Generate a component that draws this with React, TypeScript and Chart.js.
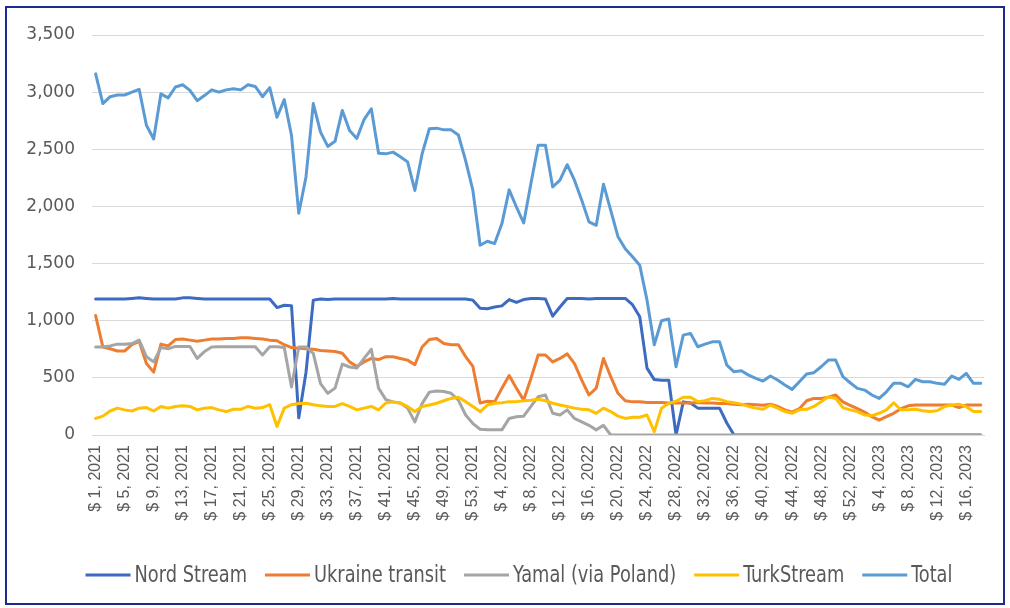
import React, { useEffect, useRef } from "react";
import { Chart, registerables } from "chart.js";

Chart.register(...registerables);

// Week ranges shown on the category axis: [year, number of weeks]
const WEEK_RANGES: [number, number][] = [
  [2021, 53],
  [2022, 52],
  [2023, 18],
];

const SERIES_NAMES = ["Nord Stream", "Ukraine transit", "Yamal (via Poland)", "TurkStream", "Total"];
const SERIES_COLORS = ["#3D6BC2", "#ED7D31", "#A5A5A5", "#FFC000", "#5B9BD5"];

const Y_TICKS = [0, 500, 1000, 1500, 2000, 2500, 3000, 3500];

const nordStream = [
  1190, 1190, 1190, 1190, 1190, 1195, 1200, 1195, 1190, 1190, 1190, 1190, 1200, 1200, 1195, 1190, 1190, 1190, 1190, 1190,
  1190, 1190, 1190, 1190, 1190, 1115, 1135, 1130, 150, 550, 1180, 1190, 1185, 1190, 1190, 1190, 1190, 1190, 1190, 1190,
  1190, 1195, 1190, 1190, 1190, 1190, 1190, 1190, 1190, 1190, 1190, 1190, 1180, 1110, 1105, 1120, 1130, 1185, 1160, 1185,
  1195, 1195, 1190, 1040, 1120, 1195, 1195, 1195, 1190, 1195, 1195, 1195, 1195, 1195, 1140, 1035, 585, 485, 480, 480,
  0, 290, 280, 235, 235, 235, 235, 105, 0, 0, 0, 0, 0, 0, 0, 0, 0, 0, 0, 0,
  0, 0, 0, 0, 0, 0, 0, 0, 0, 0, 0, 0, 0, 0, 0, 0, 0, 0, 0, 0,
  0, 0, 0,
];

const ukraineTransit = [
  1045, 770, 755, 735, 735, 790, 820, 625, 550, 795, 780, 835, 840, 830, 820, 830, 840, 840, 845, 845,
  850, 850, 845, 840, 830, 825, 790, 765, 760, 755, 750, 740, 735, 730, 715, 640, 600, 640, 670, 660,
  685, 685, 670, 655, 615, 770, 835, 845, 800, 790, 790, 685, 600, 280, 295, 290, 410, 520, 410, 305,
  495, 700, 700, 640, 670, 710, 625, 480, 350, 410, 670, 510, 365, 300, 290, 290, 285, 285, 285, 280,
  280, 280, 280, 285, 280, 280, 275, 275, 270, 265, 270, 265, 260, 270, 250, 220, 200, 230, 300, 320,
  320, 330, 350, 290, 260, 230, 200, 160, 130, 160, 190, 230, 255, 262, 262, 262, 262, 262, 262, 240,
  262, 262, 262,
];

const yamal = [
  770, 770, 780, 795, 795, 800, 830, 685, 640, 765, 755, 775, 775, 775, 670, 730, 770, 772, 772, 772,
  772, 772, 772, 700, 772, 772, 765, 420, 770, 770, 715, 450, 365, 410, 620, 595, 585, 670, 750, 410,
  310, 290, 280, 235, 115, 275, 375, 385, 380, 365, 305, 175, 100, 50, 45, 45, 45, 145, 160, 165,
  250, 335, 350, 190, 175, 220, 145, 115, 85, 45, 85, 0, 0, 0, 0, 0, 0, 0, 0, 0,
  0, 0, 0, 0, 0, 0, 0, 0, 0, 0, 0, 0, 0, 0, 0, 0, 0, 0, 0, 0,
  0, 0, 0, 0, 0, 0, 0, 0, 0, 0, 0, 0, 0, 0, 0, 0, 0, 0, 0, 0,
  0, 0, 0,
];

const turkStream = [
  145, 165, 210, 235, 220, 210, 235, 240, 210, 250, 235, 250, 255, 250, 220, 235, 240, 220, 205, 225,
  225, 250, 235, 240, 265, 75, 235, 265, 275, 278, 265, 255, 250, 250, 275, 250, 220, 235, 250, 220,
  280, 290, 278, 250, 205, 250, 262, 278, 300, 320, 330, 292, 250, 205, 262, 278, 282, 292, 292, 300,
  305, 312, 300, 278, 262, 250, 235, 225, 220, 190, 235, 205, 165, 145, 155, 155, 175, 30, 235, 278,
  295, 330, 330, 292, 300, 320, 312, 292, 282, 270, 250, 235, 225, 262, 235, 205, 190, 220, 225, 250,
  292, 335, 320, 240, 220, 205, 175, 170, 190, 220, 282, 220, 220, 225, 212, 205, 212, 248, 262, 270,
  248, 205, 205,
];

const total = [
  3160, 2900, 2960, 2975, 2975, 3000, 3025, 2710, 2590, 2985, 2950, 3045, 3065, 3015, 2925, 2970, 3020, 3000, 3020, 3030,
  3020, 3065, 3050, 2960, 3040, 2780, 2935, 2620, 1940, 2260, 2900, 2650, 2525, 2570, 2840, 2665, 2595, 2760, 2855, 2465,
  2460, 2475, 2435, 2390, 2140, 2460, 2680, 2685, 2670, 2670, 2625, 2400, 2140, 1660, 1695, 1675, 1850, 2145, 1995, 1855,
  2200, 2535, 2535, 2170, 2230, 2365, 2230, 2055, 1865, 1835, 2195, 1965, 1735, 1630, 1560, 1485, 1180, 790, 1000, 1015,
  597, 874, 889, 772, 795, 815, 815, 612, 553, 562, 524, 495, 472, 516, 481, 437, 399, 466, 533, 545,
  597, 656, 656, 510, 457, 408, 393, 350, 320, 378, 452, 452, 422, 487, 466, 466, 452, 445, 516, 487,
  539, 452, 452,
];

const SERIES_VALUES = [nordStream, ukraineTransit, yamal, turkStream, total];

const weekLabels: string[] = [];
WEEK_RANGES.forEach(([year, count]) => {
  for (let w = 1; w <= count; w++) weekLabels.push(`$ ${w}, ${year}`);
});

const TICK_COLOR = "#595959";
const GRID_COLOR = "#D9D9D9";

// Legend drawn on the chart canvas with horizontally condensed text
const condensedLegend = {
  id: "condensedLegend",
  afterDraw(chart: any) {
    const ctx = chart.ctx as CanvasRenderingContext2D;
    const sx = 0.86;
    const lineW = 45;
    const gap = 4;
    const itemGap = 18;
    const centerX = 519;
    const y = 575;
    ctx.save();
    ctx.font = "23px 'DejaVu Sans Condensed', 'DejaVu Sans', sans-serif";
    const items = chart.data.datasets.map((ds: any) => ({
      text: ds.label as string,
      color: ds.borderColor as string,
      w: ctx.measureText(ds.label).width * sx,
    }));
    const totalW =
      items.reduce((s: number, it: any) => s + lineW + gap + it.w, 0) + itemGap * (items.length - 1);
    let x = centerX - totalW / 2;
    items.forEach((it: any) => {
      ctx.fillStyle = it.color;
      ctx.fillRect(x, y - 1.5, lineW, 3);
      x += lineW + gap;
      ctx.save();
      ctx.translate(x, y);
      ctx.scale(sx, 1);
      ctx.fillStyle = TICK_COLOR;
      ctx.textBaseline = "middle";
      ctx.textAlign = "left";
      ctx.fillText(it.text, 0, 1);
      ctx.restore();
      x += it.w + itemGap;
    });
    ctx.restore();
  },
};

export default function App() {
  const canvasRef = useRef<HTMLCanvasElement | null>(null);

  useEffect(() => {
    if (!canvasRef.current) return;
    const chart = new Chart(canvasRef.current, {
      type: "line",
      data: {
        labels: weekLabels,
        datasets: SERIES_NAMES.map((name, i) => ({
          label: name,
          data: SERIES_VALUES[i],
          borderColor: SERIES_COLORS[i],
          backgroundColor: SERIES_COLORS[i],
          borderWidth: 3,
          pointRadius: 0,
          pointHoverRadius: 0,
          tension: 0,
          fill: false,
          borderJoinStyle: "round" as const,
          borderCapStyle: "round" as const,
          order: SERIES_NAMES.length - i,
        })),
      },
      options: {
        responsive: false,
        animation: false,
        layout: { padding: { top: 35, right: 15, bottom: 63, left: 0 } },
        plugins: {
          tooltip: { enabled: false },
          legend: { display: false },
        },
        scales: {
          x: {
            type: "category",
            offset: true,
            grid: { display: false, drawTicks: false },
            border: { display: true, color: GRID_COLOR, width: 1 },
            ticks: {
              autoSkip: false,
              minRotation: 90,
              maxRotation: 90,
              padding: 10,
              color: TICK_COLOR,
              font: { family: "'Liberation Sans', Arial, sans-serif", size: 16 },
              callback: (_v: any, idx: number) => (idx % 4 === 0 ? weekLabels[idx] : ""),
            },
            afterFit: (scale: any) => {
              scale.height = 110;
            },
          },
          y: {
            min: 0,
            max: 3500,
            grid: { color: GRID_COLOR, lineWidth: 1, drawTicks: false },
            border: { display: false },
            ticks: {
              stepSize: 500,
              padding: 17,
              color: TICK_COLOR,
              font: { family: "'DejaVu Sans', sans-serif", size: 17 },
              callback: (v: any) => (Y_TICKS.includes(Number(v)) ? Number(v).toLocaleString("en-US") : ""),
            },
            afterFit: (scale: any) => {
              scale.width = 92;
            },
          },
        },
      },
      plugins: [condensedLegend],
    });
    return () => chart.destroy();
  }, []);

  return (
    <div style={{ position: "fixed", left: 0, top: 0, width: 1010, height: 608, background: "#ffffff", overflow: "hidden" }}>
      <div
        style={{
          position: "absolute",
          left: 5,
          top: 6,
          width: 996,
          height: 595,
          border: "2px solid #1B2A8F",
        }}
      />
      <canvas ref={canvasRef} width={1010} height={608} style={{ position: "absolute", left: 0, top: 0, width: 1010, height: 608 }} />
    </div>
  );
}
